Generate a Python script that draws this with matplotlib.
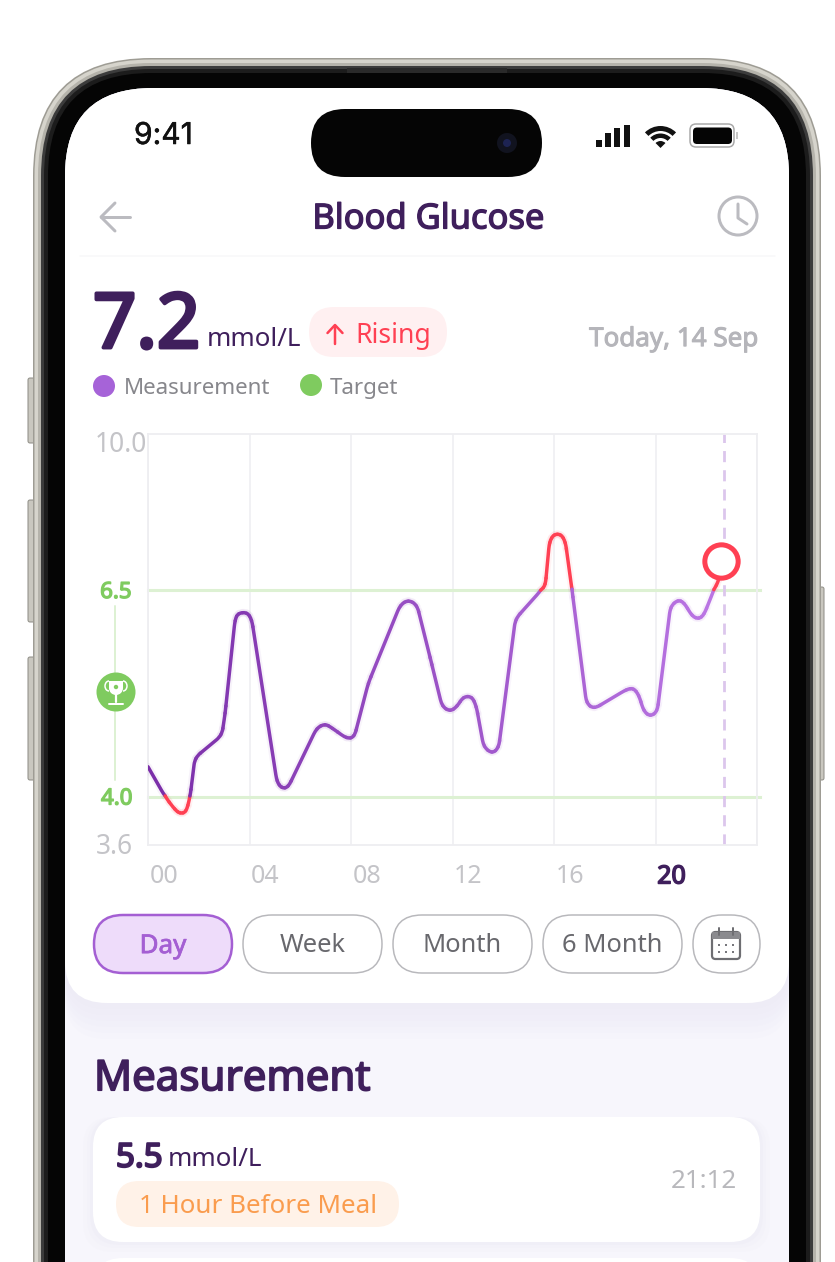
import numpy as np
import matplotlib
matplotlib.use("Agg")
import matplotlib.pyplot as plt
import matplotlib.patheffects as pe
from matplotlib.collections import PathCollection
from matplotlib.colors import to_rgb
from matplotlib.patches import Arc, Circle, FancyBboxPatch, Rectangle, Wedge
from matplotlib.path import Path
from matplotlib.transforms import ScaledTranslation

plt.rcParams["font.family"] = ["Noto Sans", "DejaVu Sans"]

# chart data
hours = [0.0, 0.67, 1.07, 1.26, 1.50, 1.66, 1.85, 2.91, 3.04, 3.43, 3.55, 3.91, 4.09,
         5.08, 5.27, 5.52, 6.65, 6.98, 7.25, 7.84, 8.13, 8.68, 9.94, 10.26, 10.60,
         11.12, 11.59, 11.91, 12.18, 12.43, 12.77, 12.94, 13.23, 13.56, 13.82, 14.48,
         15.50, 15.66, 15.82, 15.99, 16.28, 16.45, 16.71, 17.28, 17.57, 18.88, 19.14,
         19.34, 19.54, 19.80, 20.07, 20.59, 20.88, 21.12, 21.45, 21.71, 21.91, 22.30,
         22.50, 22.60]
glucose = [4.36, 4.00, 3.89, 3.86, 3.87, 4.00, 4.47, 4.74, 5.01, 6.14, 6.22, 6.23, 6.14,
           4.18, 4.10, 4.11, 4.83, 4.88, 4.83, 4.70, 4.72, 5.37, 6.32, 6.38, 6.32,
           5.68, 5.09, 5.03, 5.09, 5.21, 5.21, 5.09, 4.60, 4.52, 4.59, 6.15,
           6.50, 6.61, 7.58, 7.75, 7.75, 7.58, 6.50, 5.13, 5.06, 5.30, 5.31,
           5.23, 5.03, 4.97, 5.03, 6.30, 6.38, 6.35, 6.18, 6.15, 6.20, 6.50,
           6.72, 7.15]
target_low = 4.0
target_high = 6.5
now_hour = 22.7
x_ticks = [0, 4, 8, 12, 16, 20, 24]
x_labels = ["00", "04", "08", "12", "16", "20", ""]
y_ticks = [3.6, 4.0, 6.5, 10.0]
y_labels = ["3.6", "4.0", "6.5", "10.0"]
y_knots = [3.6, 4.0, 6.5, 10.0]     # the axis is not linear, bands have their own height
y_heights = [0, 48.5, 255, 411]

DARK = "#3F1F5C"
GREY = "#BBBBC0"
GREEN = "#7FCB5F"
RED = "#FF4053"
CORNER_PX = 7
W, H = 835, 1262

fig = plt.figure(figsize=(W / 100, H / 100), dpi=100, facecolor="white")
bg = fig.add_axes([0, 0, 1, 1])
bg.set_xlim(0, W)
bg.set_ylim(H, 0)
bg.axis("off")


def rbox(x0, y0, x1, y1, r, fc="none", ec="none", lw=0, z=1, alpha=None, ax=bg):
    p = FancyBboxPatch((x0, y0), x1 - x0, y1 - y0,
                       boxstyle=f"round,pad=0,rounding_size={r}",
                       fc=fc, ec=ec, lw=lw * 0.72, zorder=z, alpha=alpha)
    ax.add_patch(p)
    return p


def fatten(t, px, factor):
    # the sans family here only ships one weight, so thicken the outline
    t.set_path_effects([pe.withStroke(linewidth=px * factor, foreground=t.get_color())])


def label(x, y, s, px, color, ha="left", bold=0, family=None, z=10):
    kw = {"family": family} if family else {}
    t = bg.text(x, y + px * 0.1, s, fontsize=px * 0.72, color=color, ha=ha, va="center",
                zorder=z, **kw)
    if bold:
        fatten(t, px, bold)
    return t


def stroke(xs, ys, color, px, z=10, cap="round"):
    bg.plot(xs, ys, color=color, lw=px * 0.72, solid_capstyle=cap, zorder=z)


# ---- phone body ----
for y0, y1, xa, xb in [(378, 443, 28, 36), (500, 622, 28, 36), (657, 780, 28, 36),
                       (587, 780, 816, 824)]:
    rbox(xa, y0, xb, y1, 2, fc="#C9C7BF", ec="#8F8D86", lw=1, z=1)
for inset, col in [(0, "#9E9C94"), (1.5, "#D6D4CC"), (5, "#B5B3AB"), (8, "#3C3C3C"),
                   (11, "#1C1C1C"), (15, "#050505")]:
    rbox(33 + inset, 58 + inset, 821 - inset, 1400, 118 - inset, fc=col, z=2)
bg.add_patch(Rectangle((347, 68), 160, 5, fc="#2A2A2A", ec="none", zorder=4))
screen = rbox(65, 88, 789, 1400, 88, fc="#F7F6FC", z=4)

# card shadow, then the white card
for grow in range(36, 0, -6):
    s = rbox(65, 60, 789, 1003 + grow, 42, fc="#E9E6F4", alpha=0.10, z=5)
    s.set_clip_path(screen)
card = rbox(65, 40, 789, 1003, 42, fc="white", z=5)
card.set_clip_path(screen)

# ---- status bar ----
label(134, 133, "9:41", 30, "#111111", bold=0.012, family="Inter")
rbox(311, 109, 542, 177, 34, fc="#050505", z=6)
bg.add_patch(Circle((507, 143), 10, fc="#11131F", ec="none", zorder=7))
bg.add_patch(Circle((507, 143), 4, fc="#1D2352", ec="none", zorder=8))
for bx, top in zip([596, 605, 614, 623.5], [140, 133, 128, 125]):
    bg.add_patch(Rectangle((bx, top), 6, 147 - top, fc="#111111", ec="none", zorder=7))
for r, t in [(22, 5), (14.5, 4.5)]:
    bg.add_patch(Wedge((660.5, 148), r, 225, 315, width=t, fc="#111111", ec="none", zorder=7))
bg.add_patch(Wedge((660.5, 148), 7, 225, 315, fc="#111111", ec="none", zorder=7))
rbox(690, 124, 734, 147, 6, fc="white", ec="#A8A8A8", lw=1.5, z=7)
rbox(693, 127.5, 732, 144, 4, fc="#050505", z=8)
bg.add_patch(Rectangle((736, 132), 2, 7, fc="#C8C8C8", ec="none", zorder=7))

# ---- header ----
stroke([101, 130], [217, 217], GREY, 3)
stroke([115, 101, 115], [203, 217, 231], GREY, 3)
label(428, 216, "Blood Glucose", 34.5, DARK, ha="center", bold=0.028)
bg.add_patch(Circle((738, 216), 19, fc="none", ec=GREY, lw=3 * 0.72, zorder=10))
stroke([738, 738, 747], [204, 218, 224], GREY, 3)
stroke([80, 775], [256, 256], "#F8F8F9", 1.5, z=6)

label(93, 320, "7.2", 76, DARK, bold=0.035)
label(207, 337, "mmol/L", 26, DARK)
rbox(309, 307, 447, 357, 25, fc="#FFF0F1", z=6)
stroke([335, 335], [326, 344], RED, 2.5)
stroke([327.5, 335, 342.5], [333, 325, 333], RED, 2.5)
label(355, 333, "Rising", 26.5, RED)
label(758, 337, "Today, 14 Sep", 26, "#B5B5BA", ha="right", bold=0.028)

bg.add_patch(Circle((104, 386), 11, fc="#A663D8", ec="none", zorder=8))
label(124, 386, "Measurement", 22.3, "#87878C")
bg.add_patch(Circle((311, 385), 11, fc=GREEN, ec="none", zorder=8))
label(330, 386, "Target", 22.3, "#87878C")

# ---- chart ----
ax = fig.add_axes([148 / W, 1 - 845 / H, (757 - 148) / W, (845 - 434) / H], facecolor="none", zorder=5)
ax.set_yscale("function", functions=(lambda v: np.interp(v, y_knots, y_heights),
                                     lambda h: np.interp(h, y_heights, y_knots)))
ax.set_xlim(0, 24)
ax.set_ylim(3.6, 10.0)
ax.set_xticks(x_ticks, x_labels)
ax.set_yticks(y_ticks, y_labels)
ax.minorticks_off()
ax.grid(True, axis="x", color="#EEEEF1", lw=1.1)
ax.set_axisbelow(True)
ax.tick_params(length=0, pad=14)
for sp in ax.spines.values():
    sp.set_color("#EEEEF1")
    sp.set_linewidth(1.3)

for lab in ax.get_xticklabels():
    lab.set_fontsize(18)
    lab.set_color("#C4C4C8")
    lab.set_transform(lab.get_transform() + ScaledTranslation(0.16, 0, fig.dpi_scale_trans))
ax.get_xticklabels()[5].set_color(DARK)
fatten(ax.get_xticklabels()[5], 25, 0.045)

y_shift = {"3.6": (0.04, 0.01), "4.0": (0.04, 0), "6.5": (0.03, 0), "10.0": (0.18, -0.07)}
for lab in ax.get_yticklabels():
    txt = lab.get_text()
    dx, dy = y_shift[txt]
    lab.set_transform(lab.get_transform() + ScaledTranslation(dx, dy, fig.dpi_scale_trans))
    if txt in ("4.0", "6.5"):
        lab.set_color(GREEN)
        lab.set_fontsize(16)
        fatten(lab, 22, 0.045)
    else:
        lab.set_color("#C4C4C8")
        lab.set_fontsize(19)

for lim in (target_low, target_high):
    ax.plot([0, 24.1], [lim, lim], color="#DDF1D3", lw=2.2, clip_on=False, zorder=2)
ax.plot([now_hour, now_hour], [3.6, 10.0], color="#DCC6EC", lw=2.0,
        dashes=(4, 2.9), zorder=2)

# round the corners of the line: straight runs between the read points, with a short
# quadratic piece at each point, cut in two so the colour can change right on the point
pts = np.column_stack([hours, glucose])
mids = (pts[:-1] + pts[1:]) / 2
px_pts = ax.transData.transform(pts)
seg_px = np.hypot(*(px_pts[1:] - px_pts[:-1]).T)
cut = np.minimum(0.5, CORNER_PX / seg_px)
left_col, right_col = np.array(to_rgb("#7A2DA8")), np.array(to_rgb("#BF7BE8"))


def seg_colour(i):
    hx, v = mids[i]
    if v > target_high or v < target_low:
        return to_rgb(RED)
    return tuple(left_col + (right_col - left_col) * hx / 24)


paths, cols = [], []
start = pts[0]
for i in range(1, len(pts) - 1):
    c = pts[i]
    a = c + (pts[i - 1] - c) * cut[i - 1]
    b = c + (pts[i + 1] - c) * cut[i]
    half = 0.25 * a + 0.5 * c + 0.25 * b
    paths.append(Path([start, a, (a + c) / 2, half],
                      [Path.MOVETO, Path.LINETO, Path.CURVE3, Path.CURVE3]))
    cols.append(seg_colour(i - 1))
    paths.append(Path([half, (c + b) / 2, b], [Path.MOVETO, Path.CURVE3, Path.CURVE3]))
    cols.append(seg_colour(i))
    start = b
paths.append(Path([start, pts[-1]], [Path.MOVETO, Path.LINETO]))
cols.append(seg_colour(len(mids) - 1))

for lw_, al, zz in [(5.5, 0.06, 3), (2.5, 1.0, 4)]:
    pc = PathCollection(paths, facecolors="none", edgecolors=cols, linewidths=lw_, alpha=al,
                        capstyle="round", joinstyle="round", transform=ax.transData, zorder=zz)
    ax.add_collection(pc)
ax.plot(hours[-1], glucose[-1], "o", ms=24, mfc="white", mec=RED, mew=3.6, zorder=6, clip_on=False)

# target range marker left of the axis
stroke([115, 115], [606, 780], "#DDF1D3", 2, z=6)
bg.add_patch(Circle((116, 692), 19.5, fc=GREEN, ec="none", zorder=7))
bg.add_patch(Rectangle((109, 681), 14, 7, fc="white", ec="none", zorder=8))
bg.add_patch(Wedge((116, 688), 7, 0, 180, fc="white", ec="none", zorder=8))
bg.add_patch(Circle((116, 687), 2.2, fc=GREEN, ec="none", zorder=9))
stroke([116, 116], [694, 702], "white", 2.2, z=8)
stroke([109, 123], [703.5, 703.5], "white", 2, z=8)
bg.add_patch(Arc((109, 686), 8, 10, theta1=90, theta2=270, ec="white", lw=1.1, zorder=8))
bg.add_patch(Arc((123, 686), 8, 10, theta1=-90, theta2=90, ec="white", lw=1.1, zorder=8))

# ---- range buttons ----
rbox(94, 915, 232, 973, 29, fc="#EEDCFA", ec="#A45FD3", lw=2.5, z=6)
label(163, 944, "Day", 26, "#A45FD3", ha="center", bold=0.02)
for x0, x1, name in [(243, 382, "Week"), (393, 532, "Month"), (543, 682, "6 Month")]:
    rbox(x0, 915, x1, 973, 29, fc="white", ec="#B8B8BC", lw=1.5, z=6)
    label((x0 + x1) / 2, 943, name, 25.5, "#68686D", ha="center")
rbox(693, 915, 760, 973, 29, fc="white", ec="#B8B8BC", lw=1.5, z=6)
rbox(712, 932, 740, 959, 3.5, fc="white", ec="#6E6E72", lw=2.2, z=7)
bg.add_patch(Rectangle((712, 932), 28, 7, fc="#8A8A8E", ec="none", zorder=8))
stroke([719, 719], [928, 935], "#6E6E72", 2, z=9)
stroke([733, 733], [928, 935], "#6E6E72", 2, z=9)
for cx in (719, 726, 733):
    for cy in (945, 952):
        bg.add_patch(Rectangle((cx - 1.3, cy - 1.3), 2.6, 2.6, fc="#77777C", ec="none", zorder=8))

# ---- measurement list ----
label(94, 1075, "Measurement", 42, DARK, bold=0.03)
for grow, a in [(10, 0.15), (6, 0.2), (3, 0.3)]:
    rbox(93 - grow, 1117, 760 + grow, 1242 + grow, 30, fc="#ECEAF5", alpha=a, z=5)
rbox(93, 1117, 760, 1242, 30, fc="white", z=6)
label(116, 1155, "5.5", 33, DARK, bold=0.045)
label(168, 1157, "mmol/L", 26, DARK)
rbox(116, 1181, 399, 1227, 23, fc="#FFF2E8", z=7)
label(139, 1204, "1 Hour Before Meal", 26, "#FA9C4E")
label(737, 1179, "21:12", 26, "#B8B8BC", ha="right")
rbox(93, 1258, 760, 1400, 30, fc="white", z=6)

fig.savefig("out.png", dpi=100)
